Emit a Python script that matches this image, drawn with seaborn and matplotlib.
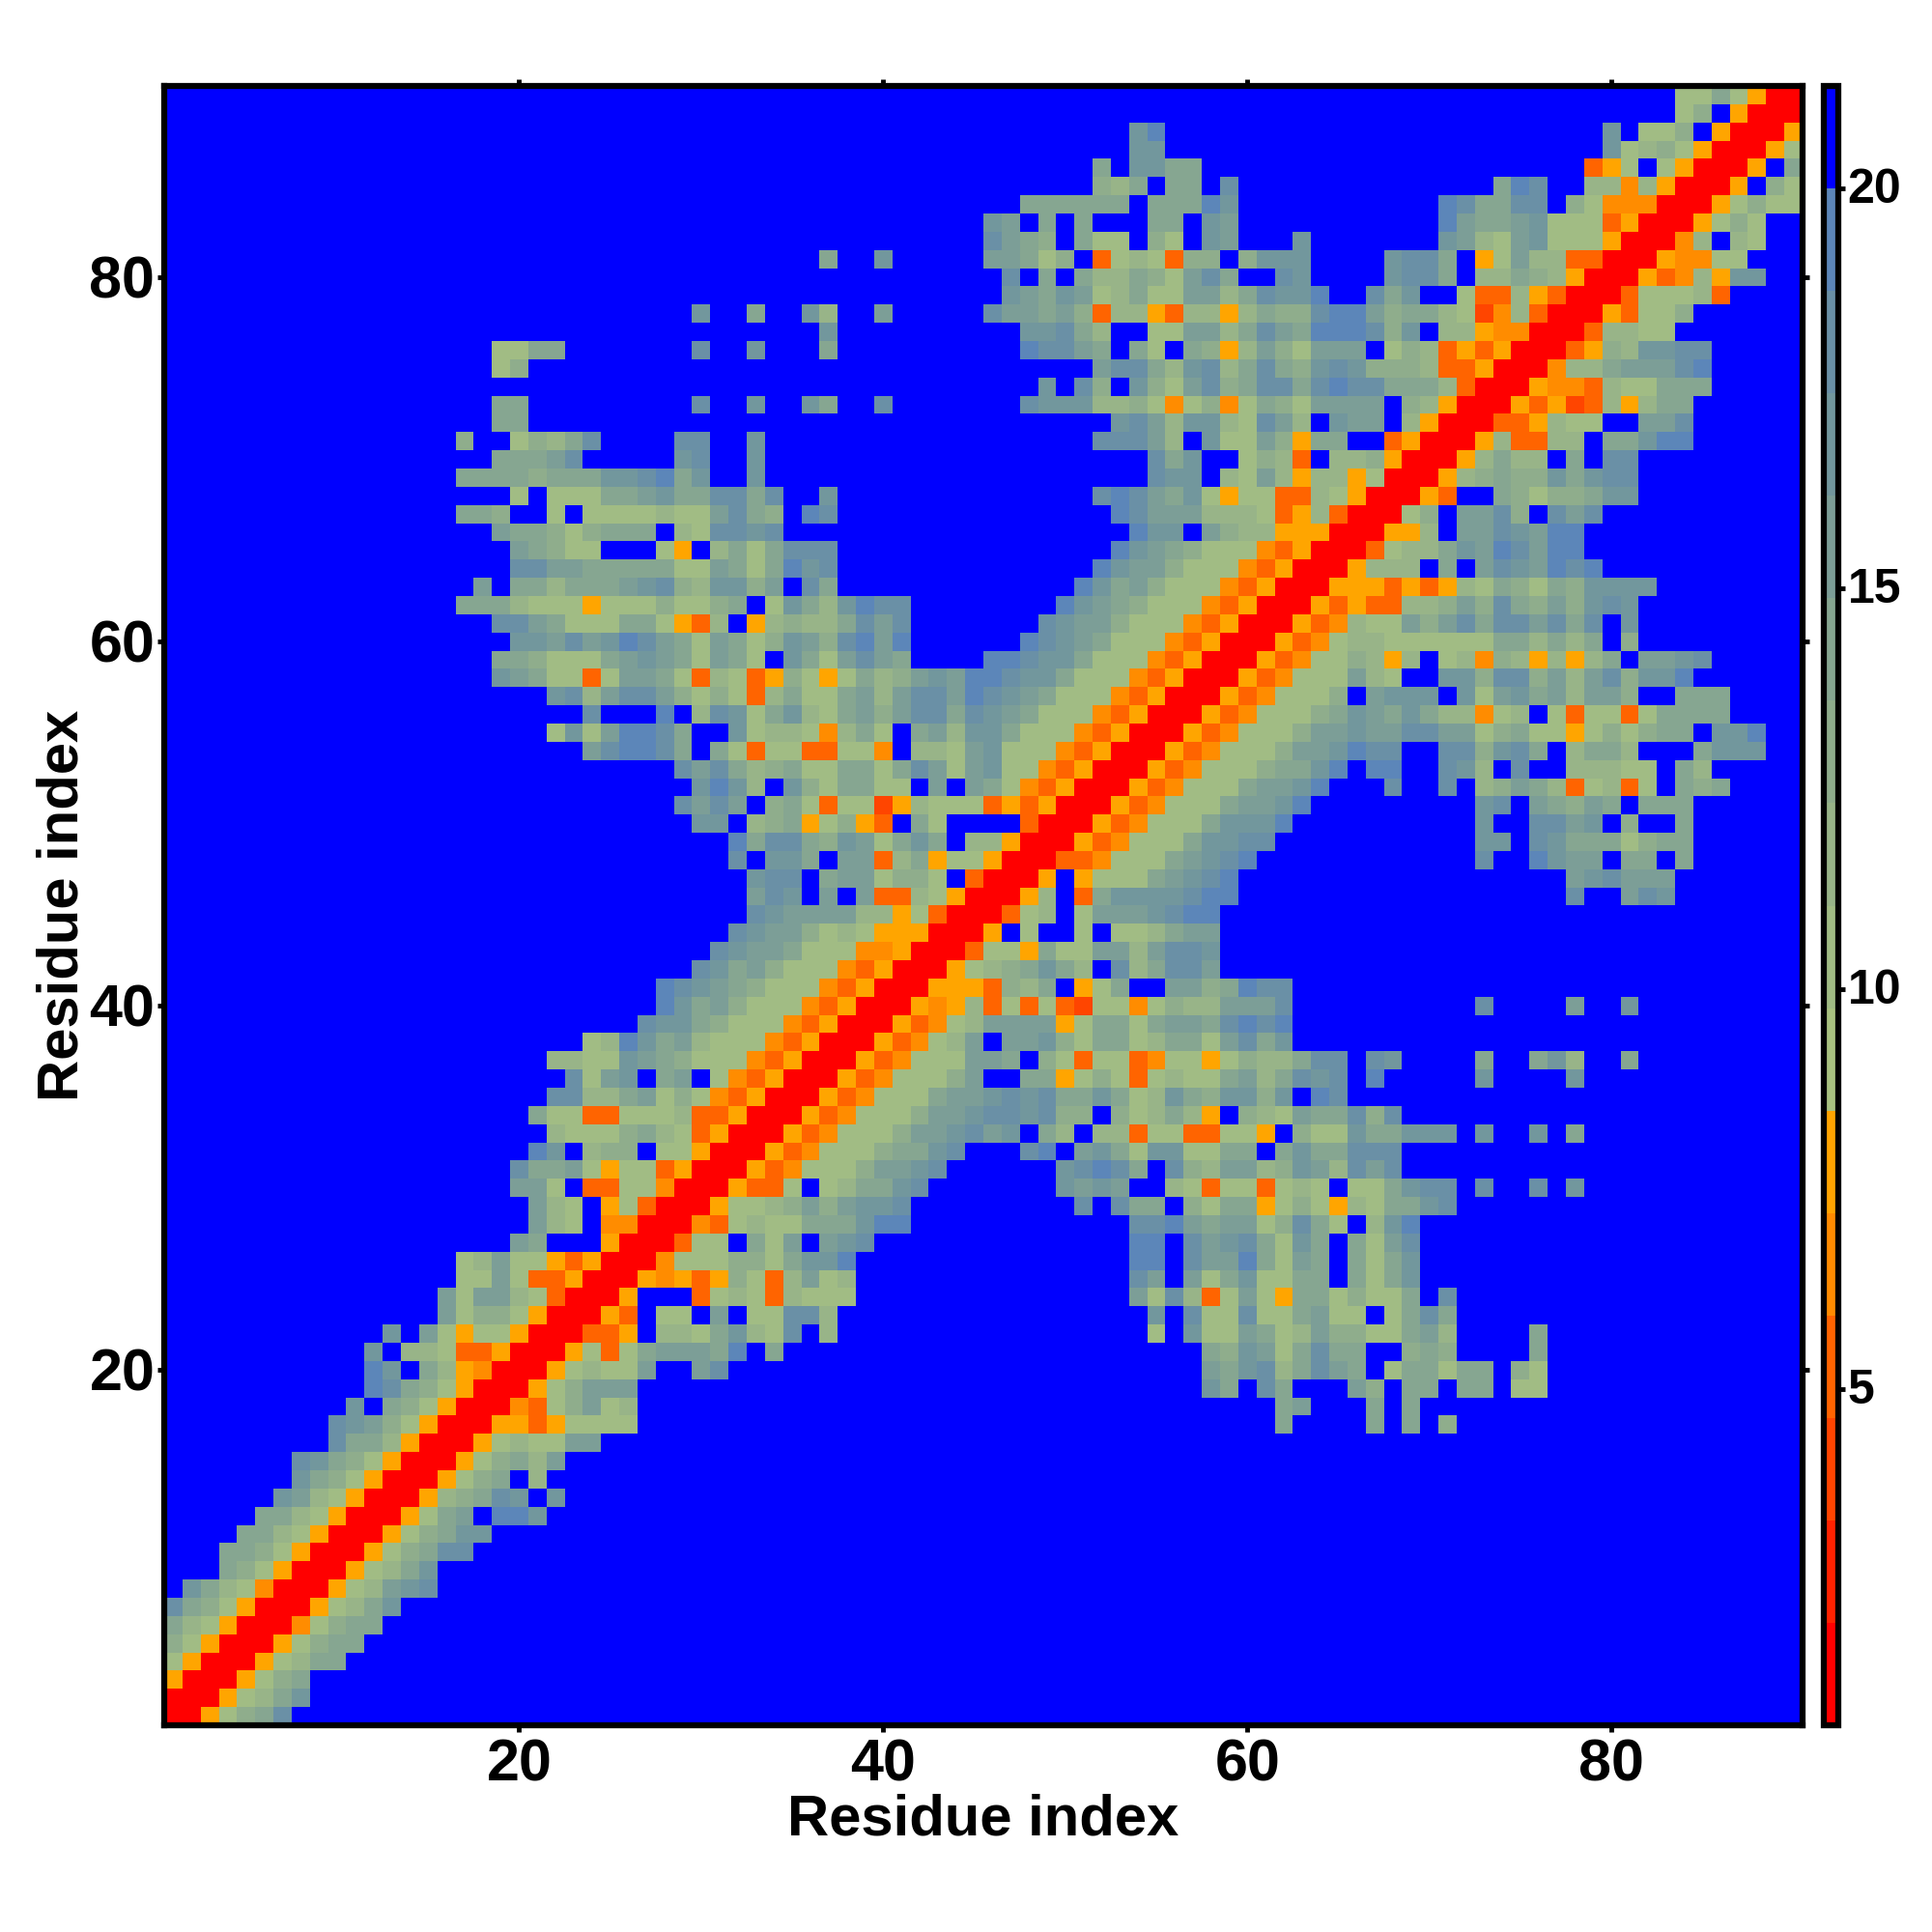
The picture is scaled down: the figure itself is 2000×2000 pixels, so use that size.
import numpy as np
import matplotlib
matplotlib.use('Agg')
import matplotlib.pyplot as plt
from matplotlib.colors import ListedColormap, BoundaryNorm
from matplotlib.transforms import ScaledTranslation
import seaborn as sns

# contact map. One string per residue, lower right half only:
# "col:codes" means codes start at that column, anything not listed is the far (blue) bin
ROWS_01_20 = [
  "1:00579ad", "2:00578ac", "3:00579a", "4:00578aa", "5:00579aa",
  "6:00479aa", "7:00578ac", "8:00578bcd", "9:00578ac", "10:00579add",
  "11:00579acc", "12:0057abfeec", "13:00589adcfc", "14:00579af8", "15:00579a8b",
  "16:0057877bb", "17:0055357777 62:a 67:a 69:a 71:9",
  "18:004379b78 62:ab 67:a 69:a", "19:00579bbb 58:cafdafffb9faafaaf77",
  "20:0057877bffbd 58:bacd8adbaf7aa7aaf97",
]
ROWS_21_32 = [
  "21:005737abbbaefa 58:a9cb7adaaff9a9 76:a",
  "22:00335f887ac87df8 55:7fc77ba78b9977ab8 76:a",
  "23:0053f77fbf77dd8 55:cfd77d77ab77f7ada",
  "24:005fff378738777 54:b7d837b75aa7977afd",
  "25:00545359738b78 54:dbfb7ac77aafa7ac",
  "26:004777997acce 54:eefdbbea7bafa7ac",
  "27:00377fa7bfbcd 54:eefdbcda7cafa7bd",
  "28:00437877aaacee 54:ddebabb79da7f8ce",
  "29:0057789b9bccd 51:dfdaaf97aa5797587aacd",
  "30:005337f78aacd 50:cbcbff873773787f77acdd 73:d 76:d 78:c",
  "31:005347779bbcd 50:cdedafd98bb89cb8dbd",
  "32:005347779aacd 48:defbca7cc77aafacaaddd",
]
ROWS_33_45 = [
  "33:005347779bbcdbcfa8f8837733775f977caaccc 73:c 76:c 78:a",
  "34:005347779bbcddcd99f978a85f987baad9d",
  "35:00534777abbcdcdaaca78ca9cc9cfed",
  "36:005347779bffaa579737877ab8adcdfe 73:c 78:c",
  "37:00534777bbaf97377347757988addfdc 73:a 76:ac8 81:a",
  "38:0053478bfbbc97aa78aa7bdac",
  "39:0053478bbbb57aa7abbadede",
  "40:0054583737327747988bbbd 73:d 78:b 81:c",
  "41:00555398af57affbb9aedd",
  "42:005789aca8fd8addb",
  "43:003775a77bb8bddc",
  "44:005f7ff7f778abb",
  "45:00378f7bbbcdee",
]
ROWS_46_60 = [
  "46:0058f3accccdee 78:dffbdc",
  "47:005f5777abcde 78:bcdbbb",
  "48:00334777abcde 73:d 76:ecbbfaafa",
  "49:00534777accdd 73:ccfdcaaa79aa",
  "50:00534777accce 73:cffddbcf9ffa",
  "51:00534777abbce 73:cdfba9bafaaa",
  "52:00534777abbce 68:d 71:df89ba837837fa9a",
  "53:005347779aacefee 71:dc8fdff88877fa8",
  "54:005347779bbcedd 71:dd9cdaf8aa8fffaccc",
  "55:005347779bbcbbddbb79a7757979aafcce",
  "56:005347779acbaca88478f737737aaaa",
  "57:005347779fbcccfc7bcab8bb9ffaaa",
  "58:00534777b87ffcc9dd9b8bd9cce",
  "59:00534779858f784985858afbbcd",
  "60:00534788777777aa8a8af9",
]
ROWS_61_90 = [
  "61:00534877b9bdaddbdadfc", "62:0053533889b9da9b9cdc", "63:00555353587a97a9cccc",
  "64:005888fafbdcbede", "65:003788acbedbee", "66:00558fbbdcbee",
  "67:0079fbbd9fdbd", "68:0053ffa9799acc", "69:00589a99cacdd",
  "70:0058a88fafdd", "71:00583388faacee", "72:00335877ffbbd",
  "73:0053523858aa", "74:005443877aaa", "75:00488abbbde",
  "76:003598ccdd", "77:0038877", "78:0053779", "79:00377783",
  "80:0053485cc", "81:0054477", "82:0048f87", "83:005797",
  "84:0057977", "85:005f97", "86:005fa", "87:0057", "88:005", "89:00", "90:0",
]

N_RESIDUES = 90
BIN_EDGES = [0.8, 2.08, 3.36, 4.64, 5.92, 7.2, 8.48, 9.76, 11.04, 12.32,
             13.6, 14.88, 16.16, 17.44, 18.72, 20.0, 21.28]
BIN_COLORS = ['#ff0000', '#ff2200', '#ff4500', '#ff6400', '#ff8c00', '#ffa500',
              '#a9c280', '#a1bc84', '#98b488', '#8fad8c', '#86a691',
              '#7c9e97', '#72979d', '#6a90a6', '#5c86b9', '#0000ff']
TICKS = [20, 40, 60, 80]
CBAR_TICKS = [5, 10, 15, 20]
AXIS_LABEL = 'Residue index'

def build_matrix():
  far = (BIN_EDGES[-2] + BIN_EDGES[-1]) / 2
  matrix = np.full((N_RESIDUES, N_RESIDUES), far)
  for row in ROWS_01_20 + ROWS_21_32 + ROWS_33_45 + ROWS_46_60 + ROWS_61_90:
    row_idx = int(row.split(':')[0]) - 1
    for segment in row.split():
      start, codes = segment.split(':')
      for offset, code in enumerate(codes):
        col_idx = int(start) - 1 + offset
        level = int(code, 16)
        value = (BIN_EDGES[level] + BIN_EDGES[level + 1]) / 2
        # the map is symmetric
        matrix[row_idx, col_idx] = value
        matrix[col_idx, row_idx] = value
  return matrix

def main():
  sns.set_theme(style='white')
  plt.rcParams['font.family'] = ['Liberation Sans', 'DejaVu Sans']
  plt.rcParams['font.weight'] = 'bold'
  plt.rcParams['text.color'] = 'black'
  plt.rcParams['axes.labelcolor'] = 'black'
  plt.rcParams['xtick.labelcolor'] = 'black'
  plt.rcParams['ytick.labelcolor'] = 'black'

  matrix = build_matrix()

  fig = plt.figure(figsize=(20, 20), dpi=100)
  ax = fig.add_axes([0.0850, 0.1070, 0.8480, 0.8485])
  cax = fig.add_axes([0.9440, 0.1070, 0.0075, 0.8485])

  cmap = ListedColormap(BIN_COLORS)
  norm = BoundaryNorm(BIN_EDGES, cmap.N)
  sns.heatmap(matrix, ax=ax, cbar_ax=cax, cmap=cmap, norm=norm, linewidths=0,
              rasterized=True, cbar_kws={'ticks': CBAR_TICKS, 'spacing': 'proportional'})
  ax.invert_yaxis()

  # heatmap cells sit on half steps
  ax.set_xticks([t - 0.5 for t in TICKS])
  ax.set_yticks([t - 0.5 for t in TICKS])
  ax.set_xticklabels(TICKS, rotation=0)
  ax.set_yticklabels(TICKS, rotation=0)
  ax.tick_params(axis='both', which='major', labelsize=44, length=5, width=3.5,
                 top=True, right=True, bottom=True, left=True, pad=5, color='black')
  ax.tick_params(axis='y', pad=2)
  ax.set_xlabel(AXIS_LABEL, fontsize=43, fontweight='bold', labelpad=0)
  ax.set_ylabel(AXIS_LABEL, fontsize=43, fontweight='bold', labelpad=0)
  for spine in ax.spines.values():
    spine.set_visible(True)
    spine.set_linewidth(4.5)
    spine.set_color('black')

  # y labels sit a bit under their ticks
  nudge = ScaledTranslation(0, -6 / 100, fig.dpi_scale_trans)
  for label in ax.get_yticklabels():
    label.set_transform(label.get_transform() + nudge)

  cax.tick_params(axis='y', labelsize=36, length=5, width=3.5, pad=2, color='black')
  cbar = ax.collections[0].colorbar
  cbar.outline.set_visible(True)
  cbar.outline.set_linewidth(4.5)
  cbar.outline.set_edgecolor('black')
  cbar.ax.minorticks_off()

  # colorbar labels sit a little above their ticks
  lift = ScaledTranslation(0, 3 / 100, fig.dpi_scale_trans)
  for label in cax.get_yticklabels():
    label.set_transform(label.get_transform() + lift)

  fig.savefig('out.png', dpi=100, facecolor='white')

if __name__ == '__main__':
  main()
